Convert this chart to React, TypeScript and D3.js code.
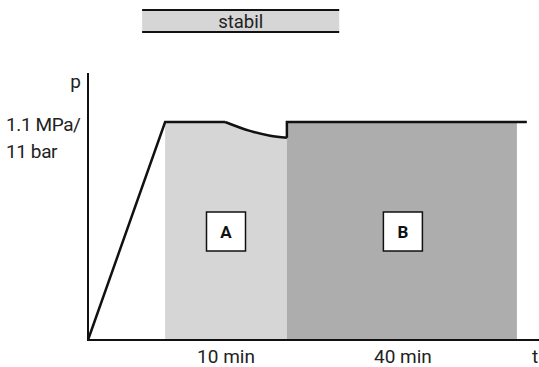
import React from "react";
import * as d3 from "d3";

const W = 539;
const H = 367;

// time in arbitrary units (0..100), pressure in MPa
const rampLine: [number, number][] = [[0, 0], [17.1, 1.1], [30.4, 1.1]];
const decayLine: [number, number][] = [[30.4, 1.1], [35.9, 1.055], [40.4, 1.031], [44.1, 1.02]];
const holdLine: [number, number][] = [[44.1, 1.02], [44.1, 1.1], [97.3, 1.1]];
const phaseA = { start: 17.1, end: 44.1, label: "A", duration: "10 min" };
const phaseB = { start: 44.1, end: 95.1, label: "B", duration: "40 min" };
const stabilBar = { start: 12.0, end: 55.7, label: "stabil" };
const yLabels = ["1.1 MPa/", "11 bar"];
const testPressure = 1.1;

export default function App() {
  const x = d3.scaleLinear().domain([0, 100]).range([88, 539]);
  const y = d3.scaleLinear().domain([0, 1.1]).range([340, 122]);
  const lin = d3.line<[number, number]>().x(d => x(d[0])).y(d => y(d[1]));
  const smooth = d3.line<[number, number]>().x(d => x(d[0])).y(d => y(d[1])).curve(d3.curveMonotoneX);
  const areaA = d3.area<[number, number]>().x(d => x(d[0])).y0(y(0)).y1(d => y(d[1])).curve(d3.curveMonotoneX);
  const aPts: [number, number][] = [[phaseA.start, testPressure], ...decayLine];
  const font = "Roboto, 'DejaVu Sans', sans-serif";
  const boxY = 231.5;
  return (
    <svg width={W} height={H} style={{ position: "absolute", left: 0, top: 0 }} fontFamily={font}>
      <rect x={0} y={0} width={W} height={H} fill="#fff" />
      {/* stabil bar */}
      <rect x={x(stabilBar.start)} y={10} width={x(stabilBar.end) - x(stabilBar.start)} height={22} fill="#d5d6d5" />
      <line x1={x(stabilBar.start)} x2={x(stabilBar.end)} y1={10} y2={10} stroke="#111" strokeWidth={2} />
      <line x1={x(stabilBar.start)} x2={x(stabilBar.end)} y1={32} y2={32} stroke="#111" strokeWidth={2} />
      <text x={(x(stabilBar.start) + x(stabilBar.end)) / 2} y={27.5} textAnchor="middle" fontSize={18.5} fill="#222">{stabilBar.label}</text>
      {/* fills */}
      <path d={areaA(aPts) || ""} fill="#d5d6d5" />
      <rect x={x(phaseB.start)} y={y(testPressure)} width={x(phaseB.end) - x(phaseB.start)} height={y(0) - y(testPressure)} fill="#acadac" />
      {/* pressure line */}
      <path d={lin(rampLine) || ""} fill="none" stroke="#111" strokeWidth={2.5} strokeLinejoin="miter" />
      <path d={smooth(decayLine) || ""} fill="none" stroke="#111" strokeWidth={2.5} />
      <path d={lin(holdLine) || ""} fill="none" stroke="#111" strokeWidth={2.5} />
      {/* axes */}
      <line x1={x(0)} x2={x(0)} y1={73} y2={341} stroke="#111" strokeWidth={2} />
      <line x1={x(0) - 1} x2={539} y1={y(0)} y2={y(0)} stroke="#111" strokeWidth={2} />
      <text x={81} y={88} textAnchor="end" fontSize={19} fill="#222">p</text>
      <text x={532} y={363} textAnchor="start" fontSize={19} fill="#222">t</text>
      {yLabels.map((l, i) => (
        <text key={l} x={6} y={131 + i * 27} fontSize={19} fill="#222" letterSpacing={-0.4}>{l}</text>
      ))}
      {[phaseA, phaseB].map((p, i) => {
        const cx = (x(p.start) + x(p.end)) / 2 + (i === 0 ? 0 : 1);
        return (
          <g key={p.label}>
            <rect x={cx - 19.5} y={boxY - 19.5} width={39} height={39} fill="#fff" stroke="#111" strokeWidth={1.5} />
            <text x={cx} y={boxY + 6} textAnchor="middle" fontSize={17} fontWeight="bold" fill="#111">{p.label}</text>
            <text x={cx} y={363} textAnchor="middle" fontSize={19} fill="#222">{p.duration}</text>
          </g>
        );
      })}
    </svg>
  );
}
